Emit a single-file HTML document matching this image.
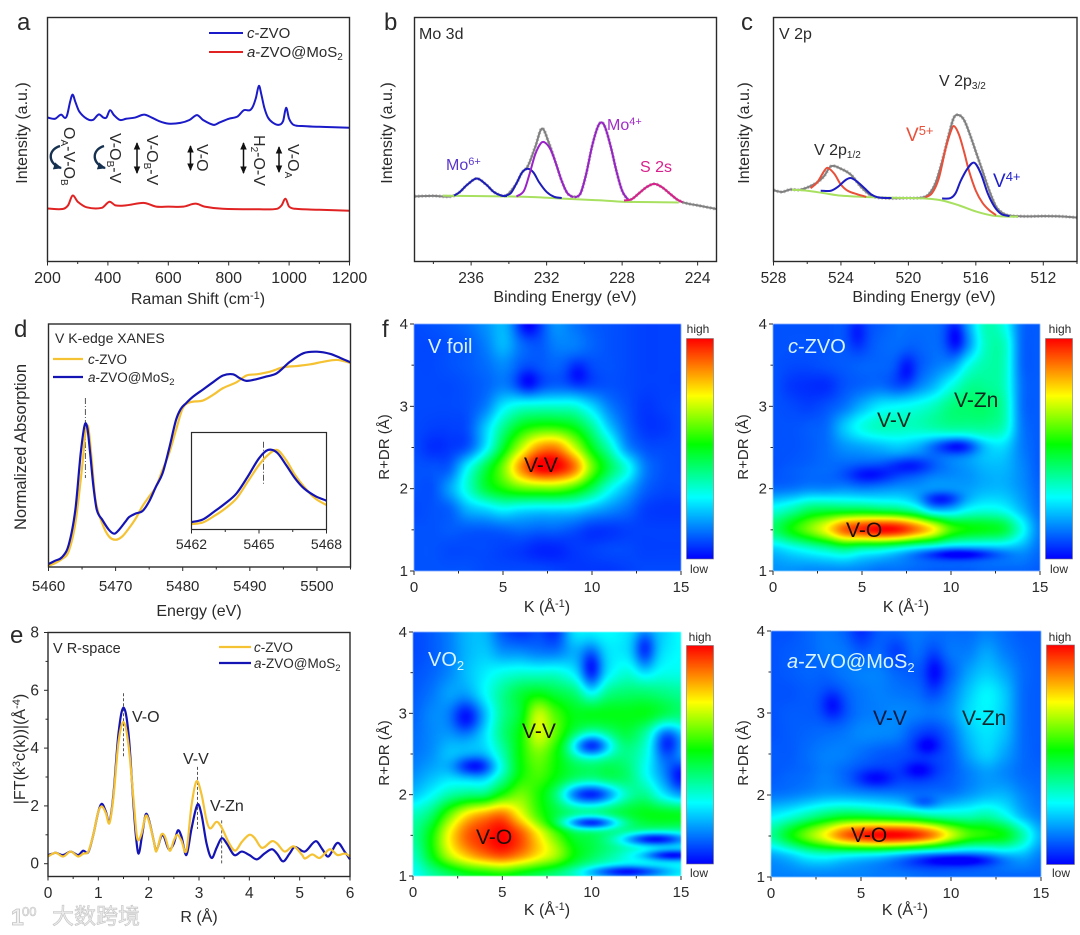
<!DOCTYPE html>
<html lang="en">
<head>
<meta charset="utf-8">
<title>ZVO characterization figure</title>
<style>
html,body{margin:0;padding:0;background:#fff;}
#figure{position:relative;width:1080px;height:935px;overflow:hidden;background:#fff;font-family:"Liberation Sans","Noto Sans CJK SC",sans-serif;}
canvas{position:absolute;filter:blur(0.4px);}
svg{position:absolute;left:0;top:0;filter:blur(0.35px);}
text{font-family:"Liberation Sans","Noto Sans CJK SC",sans-serif;fill:#2a2a2a;}
</style>
</head>
<body>
<div id="figure">
<canvas id="map-foil" style="left:414px;top:324px" width="267" height="247"></canvas>
<canvas id="map-czvo" style="left:773px;top:324px" width="267" height="247"></canvas>
<canvas id="map-vo2" style="left:413px;top:632px" width="268" height="244"></canvas>
<canvas id="map-azvo" style="left:771px;top:631px" width="270" height="246"></canvas>
<svg id="chart" width="1080" height="935" viewBox="0 0 1080 935" xmlns="http://www.w3.org/2000/svg">
<defs>
<marker id="arrow" viewBox="0 0 8 8" refX="7" refY="4" markerWidth="5" markerHeight="5" orient="auto-start-reverse"><path d="M0 0.5L8 4L0 7.5Z" fill="#111"/></marker>
<marker id="arrow-navy" viewBox="0 0 8 8" refX="7" refY="4" markerWidth="3.5" markerHeight="3.5" orient="auto"><path d="M0 0.5L8 4L0 7.5Z" fill="#16304f"/></marker>
<linearGradient id="colorbar-gradient" x1="0" y1="1" x2="0" y2="0">
<stop offset="0" stop-color="#0000ff"/><stop offset="0.28" stop-color="#00ffff"/><stop offset="0.52" stop-color="#00ff00"/><stop offset="0.74" stop-color="#ffff00"/><stop offset="1" stop-color="#ff0000"/>
</linearGradient>
</defs>
<g id="marks"></g>
<g id="axes"></g>

<!-- panel letters -->
<g font-size="24">
<text x="17" y="30">a</text>
<text x="384" y="30">b</text>
<text x="741" y="30">c</text>
<text x="14" y="337">d</text>
<text x="10" y="643">e</text>
<text x="382" y="337">f</text>
</g>

<!-- axis titles -->
<g font-size="16" text-anchor="middle">
<text x="198" y="304">Raman Shift (cm<tspan dy="-5" font-size="11">-1</tspan><tspan dy="5">)</tspan></text>
<text x="565" y="302">Binding Energy (eV)</text>
<text x="924" y="302">Binding Energy (eV)</text>
<text x="199" y="616">Energy (eV)</text>
<text x="199" y="922">R (Å)</text>
<text x="547" y="612">K (Å<tspan dy="-5" font-size="11">-1</tspan><tspan dy="5">)</tspan></text>
<text x="906" y="612">K (Å<tspan dy="-5" font-size="11">-1</tspan><tspan dy="5">)</tspan></text>
<text x="547" y="915">K (Å<tspan dy="-5" font-size="11">-1</tspan><tspan dy="5">)</tspan></text>
<text x="905" y="915">K (Å<tspan dy="-5" font-size="11">-1</tspan><tspan dy="5">)</tspan></text>
<text transform="translate(27,133) rotate(-90)">Intensity (a.u.)</text>
<text transform="translate(392,133) rotate(-90)">Intensity (a.u.)</text>
<text transform="translate(749,133) rotate(-90)">Intensity (a.u.)</text>
<text transform="translate(26,447) rotate(-90)" font-size="16.5">Normalized Absorption</text>
<text transform="translate(25,749) rotate(-90)">|FT(k<tspan dy="-5" font-size="11">3</tspan><tspan dy="5">c(k))|(Å</tspan><tspan dy="-5" font-size="11">-4</tspan><tspan dy="5">)</tspan></text>
<text transform="translate(389,447) rotate(-90)" font-size="15">R+DR (Å)</text>
<text transform="translate(748,447) rotate(-90)" font-size="15">R+DR (Å)</text>
<text transform="translate(389,753) rotate(-90)" font-size="15">R+DR (Å)</text>
<text transform="translate(748,753) rotate(-90)" font-size="15">R+DR (Å)</text>
</g>

<!-- panel a annotations -->
<g font-size="15">
<line x1="209" x2="243" y1="33" y2="33" stroke="#1a1ac8" stroke-width="2"/>
<text x="247" y="38"><tspan font-style="italic">c</tspan>-ZVO</text>
<line x1="209" x2="243" y1="52" y2="52" stroke="#e02222" stroke-width="2"/>
<text x="247" y="57"><tspan font-style="italic">a</tspan>-ZVO@MoS<tspan dy="3" font-size="10">2</tspan></text>
</g>
<g font-size="16">
<text transform="translate(64,127) rotate(90)">O<tspan dy="3" font-size="10">A</tspan><tspan dy="-3">-V-O</tspan><tspan dy="3" font-size="10">B</tspan></text>
<text transform="translate(110,133) rotate(90)">V-O<tspan dy="3" font-size="10">B</tspan><tspan dy="-3">-V</tspan></text>
<text transform="translate(147,135) rotate(90)">V-O<tspan dy="3" font-size="10">B</tspan><tspan dy="-3">-V</tspan></text>
<text transform="translate(197,144) rotate(90)">V-O</text>
<text transform="translate(254,135) rotate(90)">H<tspan dy="3" font-size="10">2</tspan><tspan dy="-3">-O-V</tspan></text>
<text transform="translate(288,144) rotate(90)">V-O<tspan dy="3" font-size="10">A</tspan></text>
<line x1="137" x2="137" y1="143" y2="173" stroke="#111" stroke-width="1.5" marker-start="url(#arrow)" marker-end="url(#arrow)"/>
<line x1="190.5" x2="190.5" y1="146" y2="170" stroke="#111" stroke-width="1.5" marker-start="url(#arrow)" marker-end="url(#arrow)"/>
<line x1="243.5" x2="243.5" y1="143" y2="173" stroke="#111" stroke-width="1.5" marker-start="url(#arrow)" marker-end="url(#arrow)"/>
<line x1="279" x2="279" y1="147" y2="172" stroke="#111" stroke-width="1.5" marker-start="url(#arrow)" marker-end="url(#arrow)"/>
<path d="M60 146C47 150 48 164 61 168" fill="none" stroke="#16304f" stroke-width="2.4" marker-end="url(#arrow-navy)"/>
<path d="M104 146C91 150 92 164 105 168" fill="none" stroke="#16304f" stroke-width="2.4" marker-end="url(#arrow-navy)"/>
</g>

<!-- panel b and c annotations -->
<g font-size="15">
<text x="419" y="39" font-size="16">Mo 3d</text>
<text x="446" y="170" font-size="16" style="fill:#5a36cc">Mo<tspan dy="-5" font-size="11">6+</tspan></text>
<text x="607" y="130" font-size="16" style="fill:#a22cc8">Mo<tspan dy="-5" font-size="11">4+</tspan></text>
<text x="640" y="172" font-size="16" style="fill:#d8208c">S 2s</text>
<text x="779" y="39" font-size="16">V 2p</text>
<text x="939" y="86" font-size="16">V 2p<tspan dy="3" font-size="10">3/2</tspan></text>
<text x="814" y="155" font-size="16">V 2p<tspan dy="3" font-size="10">1/2</tspan></text>
<text x="906" y="141" font-size="19" style="fill:#e8503a">V<tspan dy="-6" font-size="13">5+</tspan></text>
<text x="993" y="187" font-size="19" style="fill:#2020c8">V<tspan dy="-6" font-size="13">4+</tspan></text>
</g>

<!-- panel d annotations -->
<g font-size="13.5">
<text x="55" y="343" font-size="14">V K-edge XANES</text>
<line x1="53" x2="83" y1="359" y2="359" stroke="#f5c233" stroke-width="2.2"/>
<text x="88" y="364"><tspan font-style="italic">c</tspan>-ZVO</text>
<line x1="53" x2="83" y1="377" y2="377" stroke="#1414b4" stroke-width="2.2"/>
<text x="88" y="382"><tspan font-style="italic">a</tspan>-ZVO@MoS<tspan dy="3" font-size="9.5">2</tspan></text>
</g>

<!-- panel e annotations -->
<g font-size="13.5">
<text x="53" y="653" font-size="14.5">V R-space</text>
<line x1="219" x2="251" y1="647" y2="647" stroke="#f5c233" stroke-width="2.2"/>
<text x="254" y="652"><tspan font-style="italic">c</tspan>-ZVO</text>
<line x1="219" x2="251" y1="663" y2="663" stroke="#1414b4" stroke-width="2.2"/>
<text x="254" y="668"><tspan font-style="italic">a</tspan>-ZVO@MoS<tspan dy="3" font-size="9.5">2</tspan></text>
<text x="132" y="722" font-size="16">V-O</text>
<text x="183" y="764" font-size="16">V-V</text>
<text x="210" y="811" font-size="16">V-Zn</text>
</g>

<!-- heatmap labels -->
<g font-size="21" style="fill:#111">
<text x="428" y="353" font-size="20" style="fill:#d8f4ff">V foil</text>
<text x="524" y="472" style="fill:#1a1008">V-V</text>
<text x="788" y="353" font-size="20" style="fill:#d8f4ff"><tspan font-style="italic">c</tspan>-ZVO</text>
<text x="877" y="427" style="fill:#0a2a20">V-V</text>
<text x="954" y="407" style="fill:#0a2a20">V-Zn</text>
<text x="846" y="537" style="fill:#1a1008">V-O</text>
<text x="428" y="666" font-size="20" style="fill:#d8f4ff">VO<tspan dy="4" font-size="13">2</tspan></text>
<text x="522" y="738" style="fill:#1a1008">V-V</text>
<text x="476" y="844" style="fill:#1a1008">V-O</text>
<text x="787" y="668" font-size="20" style="fill:#d8f4ff"><tspan font-style="italic">a</tspan>-ZVO@MoS<tspan dy="4" font-size="13">2</tspan></text>
<text x="873" y="725" style="fill:#0a1a40">V-V</text>
<text x="962" y="725" style="fill:#0a2a30">V-Zn</text>
<text x="851" y="842" style="fill:#1a1008">V-O</text>
</g>

<!-- colorbars -->
<g>
<rect x="686.5" y="338.5" width="27" height="220.5" fill="url(#colorbar-gradient)" stroke="#777" stroke-width="0.6"/>
<rect x="1045.5" y="338.5" width="27" height="220.5" fill="url(#colorbar-gradient)" stroke="#777" stroke-width="0.6"/>
<rect x="686.5" y="645.5" width="27" height="218.5" fill="url(#colorbar-gradient)" stroke="#777" stroke-width="0.6"/>
<rect x="1046.5" y="645" width="28" height="219.5" fill="url(#colorbar-gradient)" stroke="#777" stroke-width="0.6"/>
</g>
<g font-size="12" text-anchor="middle">
<text x="698" y="333">high</text>
<text x="699" y="573">low</text>
<text x="1060" y="333">high</text>
<text x="1059" y="573">low</text>
<text x="700" y="641">high</text>
<text x="699" y="877">low</text>
<text x="1060" y="641">high</text>
<text x="1061" y="877">low</text>
</g>

<!-- watermark -->
<g>
<text x="11" y="925" font-size="23" font-weight="bold" style="fill:#f0f0f0;stroke:#c4c4c4;stroke-width:0.8">1</text>
<text x="22" y="916" font-size="13" style="fill:#f4f4f4;stroke:#c4c4c4;stroke-width:0.6">00</text>
<text x="52" y="924" font-size="22" style="fill:#ececec;stroke:#c4c4c4;stroke-width:0.6;font-family:'Liberation Sans','Noto Sans CJK SC',sans-serif">大数跨境</text>
</g>
</svg>
</div>

<script>
/* ---------- panel a: Raman ---------- */
const ramanShift = [200,225,245,258,265,275,283,292,305,330,350,370,385,395,407,420,440,460,490,520,545,570,600,640,670,695,715,750,770,800,830,850,870,880,890,900,908,918,930,945,965,980,990,1000,1015,1050,1100,1150,1200];
const ramanCZvo  = [59,58.5,60.2,58.8,60,65.5,68.4,65.5,61.5,58.5,58,60.3,59,59,62,60,58,58.5,59,60.2,59,57.5,56.5,56.8,58,60,58,56,57,58.5,59.5,62,62,63.5,67,72,68.5,63,59,57,56,57.5,63,58.5,56,55.5,55.2,55,54.8];
const ramanShiftA = [200,250,268,283,300,330,380,405,425,460,520,560,600,650,690,720,780,900,960,975,988,1000,1020,1100,1200];
const ramanAZvo   = [21.7,21.5,23,27,24.5,22.2,22,24.5,23,23,24,22.5,22.5,22.5,23.7,22.5,21.6,21.4,21.6,23,25.7,22.5,21.6,21.2,20.8];
const ramanTicks = [200,400,600,800,1000,1200];
const ramanMinorTicks = [300,500,700,900,1100];

/* ---------- panel b: Mo 3d ---------- */
const moEnergy = [239,238,237.3,236.9,236.6,236.2,235.7,235.2,234.8,234.4,234.1,233.6,233.3,233,232.6,232.25,231.9,231.5,231.2,230.9,230.5,230.2,229.9,229.6,229.3,229.1,228.9,228.6,228.3,228,227.7,227.5,227.1,226.7,226.3,225.9,225.5,225.1,224.8,224.5,224,223];
const moTotal  = [26.7,26.9,26.6,27,28.5,31.5,34,31.5,28.5,27,27.2,32,36.5,39,47,54.5,49,40,33,28,26.5,28,36,47,55,57,55,47,37,29,25.5,25.5,28,30.5,31.8,30.5,28,25.5,24.3,23.7,23,21.5];
const moBackgroundE = [237.5,233,231,229,228,225];
const moBackground  = [27,26.5,25.7,25,24.5,24.2];
const mo6aE = [236.9,236.6,236.2,235.7,235.2,234.8,234.4,234.1];
const mo6a  = [27,28.5,31.5,34,31.5,28.5,27,26.8];
const mo6bE = [234.3,233.9,233.6,233.3,233,232.7,232.4,232,231.6,231.2];
const mo6b  = [26.8,28,32,36.5,38,36.5,32.5,28.5,26.5,26];
const mo4aE = [233.6,233.2,232.9,232.6,232.3,232.1,231.8,231.5,231.2,230.9,230.6];
const mo4a  = [26.6,29,36,44,48.5,48.8,46,40,33,28,26.3];
const mo4bE = [230.5,230.2,229.9,229.6,229.3,229.1,228.9,228.6,228.3,228,227.7];
const mo4b  = [26.2,28,36,47,55,57,55,47,37,29,25.5];
const s2sE = [227.9,227.5,227.1,226.7,226.3,225.9,225.5,225.1,224.8];
const s2s  = [25,25.5,28,30.5,31.8,30.5,28,25.5,24.3];
const moTicks = [236,232,228,224];
const moMinorTicks = [238,234,230,226];

/* ---------- panel c: V 2p ---------- */
const vEnergy = [528,527.5,527,526.4,525.5,525,524.6,524,523.4,522.8,522.2,521.5,520,519.2,518.8,518.4,518,517.6,517.3,517,516.7,516.4,516,515.6,515.2,514.8,514.4,514,513,512,511,510];
const vTotal  = [29.2,28.5,29.5,29.4,32,35,39,38,35.5,30.5,27,26,26,26.2,27.5,32,41,52,59,60,58,53,45,37,29,22.5,19.8,18.8,18.5,18.6,18.5,18];
const vBackgroundE = [526.9,526,525,524,522,520,519,518,517,516,515,514,513.5];
const vBackground  = [29.4,29,28,27,26.3,26,25.8,25,23,20.5,18.8,18.4,18.4];
const v5aE = [525.8,525.4,525,524.8,524.4,524,523.6,523,522.5];
const v5a  = [30,32.5,37,38.4,36,31.5,29,27.5,26.5];
const v4aE = [525.2,524.6,524.2,523.7,523.4,523,522.6,522.2,521.8,521];
const v4a  = [29,29,30.5,33.5,34.2,32.5,30,27.5,26.3,26];
const v5bE = [519,518.6,518.2,517.8,517.5,517.3,517,516.7,516.4,516,515.6,515.2,514.8];
const v5b  = [26.3,28,34,46,53,55.5,52,45,37,29,24,21,19];
const v4bE = [518,517.5,517.2,516.9,516.5,516.1,515.7,515.3,514.9,514.5,514];
const v4b  = [25.8,26,28,33,38,40.5,36,28,22.5,19.5,18.6];
const vTicks = [528,524,520,516,512];
const vMinorTicks = [526,522,518,514,510];

/* ---------- panel d: XANES ---------- */
const xanesBlueE = [5460,5461,5462,5463,5464,5464.8,5465.4,5465.8,5466.2,5466.7,5467.2,5468,5469,5469.8,5470.5,5471.5,5472,5473,5474,5475,5476,5477,5478,5479,5479.7,5480.5,5481.5,5483,5484.5,5486,5487.5,5488.5,5489.5,5491,5492.5,5494,5496,5498,5500,5502,5503.5,5505];
const xanesBlue  = [1.2,2.6,4,9,23.5,46.8,58.5,57,47,33,23.5,19.5,15.3,13.7,15.3,18.8,20.5,22,23,27,33,38.6,49,60.5,65,67.4,70,73,76,78.8,79.3,77.7,76.6,77.3,78.4,79.7,84.5,88,88.6,87.7,86,84.2];
const xanesGoldE = [5460,5461,5462,5463,5464,5465,5465.5,5465.9,5466.4,5467,5468,5469,5470,5471,5472,5473,5474,5475,5476,5477,5478,5479,5480,5481,5483,5484.5,5486,5488,5489.5,5491,5493,5495,5497,5499,5501,5503,5505];
const xanesGold  = [0.5,1.6,3.3,6.4,18,41,55,57.8,45.5,27.7,18,12.6,11.2,12.6,16,20,25,29,33,40,47,56.4,65.3,67.7,68.5,70.8,73.6,76,78.8,79.3,80.4,82.2,82.7,83.4,84.5,85.2,84];
const xanesTicks = [5460,5470,5480,5490,5500];
const xanesMinorTicks = [5465,5475,5485,5495,5505];
const xanesPeakGuide = [5465.5];

/* inset */
const insetE = [5462,5462.5,5463,5463.5,5464,5464.5,5465,5465.4,5465.8,5466.2,5466.6,5467,5467.5,5468];
const insetBlue = [7.6,10.3,18.3,26.9,37.2,54.5,73.4,82,79.3,66.6,52.8,42.4,34.5,29.7];
const insetGold = [5.5,7.2,13.8,21.7,32,49.3,66.6,76.9,82,71.7,56.2,44.1,32,25.2];
const insetTicks = [5462,5465,5468];
const insetMinorTicks = [5463.5,5466.5];
const insetPeakGuide = [5465.2];

/* ---------- panel e: R-space ---------- */
const rBlue = [0,0.1,0.15,0.3,0.45,0.6,0.7,0.8,0.9,1,1.07,1.15,1.22,1.3,1.4,1.5,1.6,1.7,1.75,1.8,1.87,1.94,2,2.1,2.15,2.25,2.3,2.4,2.5,2.58,2.65,2.75,2.85,2.97,3.05,3.15,3.25,3.35,3.45,3.55,3.7,3.85,4,4.15,4.3,4.45,4.55,4.67,4.8,4.9,5.1,5.32,5.45,5.57,5.75,5.9,6];
const ftBlue = [0.3,0.35,0.38,0.3,0.42,0.3,0.45,0.4,1,1.8,2.07,1.8,1.45,2.4,4.5,5.4,4.5,2,0.9,0.35,1,1.7,1.55,0.8,0.45,0.95,0.95,0.5,0.7,1.15,0.95,0.3,1.2,2.05,1.7,0.7,0.2,0.55,0.88,0.7,0.3,0.42,0.3,0.15,0.35,0.5,0.35,0.08,0.35,0.58,0.42,0.78,0.5,0.25,0.72,0.4,0.15];
const rGold = [0,0.15,0.3,0.45,0.6,0.7,0.8,0.9,1,1.07,1.15,1.22,1.3,1.4,1.5,1.6,1.7,1.77,1.85,1.94,2,2.1,2.15,2.25,2.32,2.42,2.5,2.57,2.65,2.75,2.85,2.95,3.05,3.15,3.22,3.35,3.45,3.6,3.72,3.85,4,4.1,4.25,4.45,4.55,4.7,4.88,5.05,5.1,5.25,5.4,5.6,5.75,5.9,6];
const ftGold = [0.25,0.38,0.25,0.42,0.25,0.35,0.42,1,1.8,1.98,1.75,1.4,2.3,4.2,4.9,4.1,2.2,0.9,1,1.65,1.5,0.8,0.42,1,0.95,0.45,0.8,1,0.8,0.45,2,2.85,2.4,1.5,1.22,1.45,1.25,0.7,0.45,0.75,1,0.9,0.55,0.78,0.7,0.42,0.6,0.3,0.18,0.32,0.2,0.5,0.3,0.35,0.25];
const rTicks = [0,1,2,3,4,5,6];
const rMinorTicks = [0.5,1.5,2.5,3.5,4.5,5.5];
const ftTicks = [0,2,4,6,8];
const ftMinorTicks = [1,3,5,7];
const guideVO = [1.5,5.9,3.7];
const guideVV = [2.97,3.35,1.2];
const guideVZn = [3.45,1.5,0];

/* ---------- panel f: wavelet maps (level 0-100; columns K=0..15, rows R+DR=4..1 in 0.25 steps) ---------- */
const kTicks = [0,5,10,15];
const kMinorTicks = [2.5,7.5,12.5];
const drTicks = [1,2,3,4];
const drMinorTicks = [1.5,2.5,3.5];
const colorStops = [[0,0,0,255],[28,0,255,255],[52,0,255,0],[74,255,255,0],[100,255,0,0]];
const vFoilLevels = [
[8,9,10,12,16,20,12,10,16,13,10,9,8,7,7,7],
[8,8,9,10,14,20,13,10,14,14,11,9,8,7,7,7],
[8,8,9,10,12,15,11,10,11,10,9,9,8,7,7,7],
[8,8,8,9,11,14,11,10,11,11,9,9,8,7,7,7],
[8,8,8,9,14,26,32,33,33,32,24,14,9,6,7,8],
[8,7,7,9,22,38,50,55,55,50,38,22,11,6,6,8],
[8,5,6,10,26,48,68,84,86,70,50,34,16,9,8,8],
[9,9,11,28,45,62,85,100,100,88,62,44,30,14,9,8],
[9,9,18,32,46,54,60,62,62,56,44,30,20,11,8,8],
[8,9,11,20,24,28,26,25,25,24,20,16,12,7,6,6],
[9,9,10,10,10,11,12,11,11,9,6,6,7,7,7,7],
[9,9,8,8,8,7,6,4,4,6,7,8,8,7,7,7],
[9,9,9,9,8,8,8,8,7,6,6,6,7,8,8,8]
];
const vFoilSpots = [[6.4,3.3,0.45,0.12,8],[9.2,3.4,0.45,0.12,7],[6.4,4,0.5,0.12,10]];
const cZvoLevels = [
[9,9,9,9,10,9,10,12,12,12,12,20,35,30,12,10],
[9,9,9,9,10,9,11,12,11,12,12,18,34,34,12,10],
[9,8,8,9,10,11,11,11,10,13,18,30,36,34,12,10],
[9,6,5,5,9,11,12,10,14,20,30,38,38,34,13,10],
[9,8,7,9,13,20,26,28,30,34,40,42,42,36,13,10],
[9,9,10,12,22,30,34,34,34,36,38,38,38,34,14,10],
[9,9,10,12,16,18,20,22,20,18,22,24,26,24,14,10],
[9,10,11,12,12,12,13,13,13,14,15,17,20,20,15,10],
[12,13,15,15,16,15,16,17,17,18,18,18,20,20,16,11],
[30,35,42,44,44,44,42,40,34,22,22,28,30,28,20,12],
[42,52,62,74,90,96,100,98,88,75,58,52,50,46,30,14],
[22,26,30,34,38,34,32,28,24,22,20,20,20,20,18,12],
[16,16,15,15,15,14,12,12,11,10,10,10,11,11,11,10]
];
const cZvoSpots = [[10.4,2.52,0.9,0.08,22],[5.5,2.17,1,0.08,10],[7.7,2.28,1,0.08,10],[9.5,1.87,0.8,0.07,14],[10.5,1.2,1.5,0.05,18],[7.5,3.45,0.4,0.13,8],[10.3,3.85,0.4,0.18,12],[4.7,3.9,0.4,0.15,6]];
const vo2Levels = [
[8,10,14,20,20,10,6,8,6,24,28,28,26,26,24,28],
[8,10,14,20,22,17,16,14,14,20,24,26,26,26,26,28],
[9,11,15,21,26,30,32,32,32,28,26,28,32,30,30,30],
[10,13,18,20,28,38,46,50,46,42,36,40,42,42,40,38],
[11,15,17,18,24,38,48,68,58,50,50,50,50,50,46,42],
[12,15,18,20,26,40,52,70,60,48,42,44,46,38,26,30],
[13,16,22,23,24,36,52,62,54,44,42,42,40,32,20,26],
[16,20,24,24,24,36,52,58,52,46,44,46,42,30,18,12],
[22,28,36,40,42,54,62,56,50,42,42,44,44,40,28,24],
[34,42,60,76,84,88,74,58,48,44,44,46,48,50,50,50],
[38,52,74,90,96,100,92,76,60,48,46,44,42,40,38,36],
[34,50,68,80,88,92,86,76,66,52,44,38,34,34,32,30],
[28,36,42,48,50,52,48,44,40,36,30,26,24,26,28,30]
];
const vo2Spots = [[3,2.95,0.6,0.15,16],[3.4,2.35,0.8,0.09,20],[10,2.6,0.8,0.1,36],[10,2,1.2,0.1,38],[10,1.65,1.1,0.06,40],[13.5,1.45,1.3,0.06,36],[14.5,1.25,1.2,0.05,30],[12,1.05,1.6,0.05,24],[14.4,2.65,0.6,0.15,18],[15,2.2,0.5,0.2,10],[10,3.55,0.45,0.2,22],[13,3.8,0.45,0.18,20]];
const aZvoLevels = [
[9,9,11,13,11,5,10,11,13,12,12,12,14,12,10,10],
[9,10,11,13,13,10,11,7,12,10,13,14,18,14,11,10],
[9,10,11,11,13,14,14,11,10,10,11,18,22,18,12,10],
[9,9,10,10,11,13,14,13,12,10,14,22,27,22,12,10],
[9,10,10,10,10,13,14,15,14,13,16,24,27,22,12,10],
[9,10,11,12,13,15,15,14,9,7,12,21,25,21,12,10],
[10,10,12,14,14,12,10,9,8,8,10,18,23,18,12,10],
[10,11,12,14,12,10,9,9,8,8,10,14,17,15,12,11],
[13,14,16,18,18,17,16,15,14,14,14,17,20,20,15,12],
[26,30,36,42,46,46,44,42,40,36,34,34,36,30,20,14],
[38,50,62,74,88,96,100,100,96,86,70,58,54,50,36,20],
[18,22,28,30,28,26,24,20,16,14,14,14,16,20,20,14],
[14,14,14,14,14,14,13,13,12,11,11,11,11,11,11,11]
];
const aZvoSpots = [[8.7,2.6,0.5,0.08,8],[8.2,2.3,0.6,0.08,8],[5.8,2.2,0.8,0.08,9],[8.5,1.9,0.6,0.06,10],[10.5,1.2,1.5,0.05,14],[3.4,3.1,0.45,0.13,8],[9.1,3.5,0.4,0.15,9]];

/* ---------- helpers ---------- */
const SVG_NS = 'http://www.w3.org/2000/svg';
const marksLayer = document.getElementById('marks');
const axesLayer = document.getElementById('axes');

function scale(d0, d1, r0, r1) {
  return function (v) { return r0 + (v - d0) * (r1 - r0) / (d1 - d0); };
}

function smoothPath(xs, ys, sx, sy) {
  const px = xs.map(sx), py = ys.map(sy), n = px.length, m = [];
  for (let i = 0; i < n; i++) {
    const a = Math.max(0, i - 1), b = Math.min(n - 1, i + 1);
    m.push((py[b] - py[a]) / (px[b] - px[a]));
  }
  let d = 'M' + px[0].toFixed(2) + ' ' + py[0].toFixed(2);
  for (let i = 0; i < n - 1; i++) {
    const h = (px[i + 1] - px[i]) / 3;
    d += 'C' + (px[i] + h).toFixed(2) + ' ' + (py[i] + m[i] * h).toFixed(2) + ' ' +
         (px[i + 1] - h).toFixed(2) + ' ' + (py[i + 1] - m[i + 1] * h).toFixed(2) + ' ' +
         px[i + 1].toFixed(2) + ' ' + py[i + 1].toFixed(2);
  }
  return d;
}

function drawCurve(name, xs, ys, sx, sy, color, width, dash) {
  const el = document.createElementNS(SVG_NS, 'path');
  
  
  el.setAttribute('d', smoothPath(xs, ys, sx, sy));
  el.setAttribute('fill', 'none');
  el.setAttribute('stroke', color);
  el.setAttribute('stroke-width', width);
  el.setAttribute('stroke-linejoin', 'round');
  if (dash) el.setAttribute('stroke-dasharray', dash);
  marksLayer.appendChild(el);
  return el;
}

function drawGuide(name, x, y1, y2, dash) {
  const el = document.createElementNS(SVG_NS, 'line');
  
  
  el.setAttribute('x1', x);
  el.setAttribute('x2', x);
  el.setAttribute('y1', y1);
  el.setAttribute('y2', y2);
  el.setAttribute('stroke', '#555');
  el.setAttribute('stroke-width', 1);
  el.setAttribute('stroke-dasharray', dash);
  marksLayer.appendChild(el);
}

function drawFrame(name, box, strokeWidth) {
  const el = document.createElementNS(SVG_NS, 'rect');
  
  
  el.setAttribute('x', box.l);
  el.setAttribute('y', box.t);
  el.setAttribute('width', box.r - box.l);
  el.setAttribute('height', box.b - box.t);
  el.setAttribute('fill', 'none');
  el.setAttribute('stroke', '#2a2a2a');
  el.setAttribute('stroke-width', strokeWidth);
  axesLayer.appendChild(el);
}

function drawTickMark(name, x1, y1, x2, y2) {
  const el = document.createElementNS(SVG_NS, 'line');
  
  
  el.setAttribute('x1', x1);
  el.setAttribute('y1', y1);
  el.setAttribute('x2', x2);
  el.setAttribute('y2', y2);
  el.setAttribute('stroke', '#2a2a2a');
  el.setAttribute('stroke-width', 1);
  axesLayer.appendChild(el);
}

function drawTickLabel(name, x, y, label, anchor, size) {
  const el = document.createElementNS(SVG_NS, 'text');
  
  
  el.setAttribute('x', x);
  el.setAttribute('y', y);
  el.setAttribute('text-anchor', anchor);
  el.setAttribute('font-size', size);
  el.textContent = label;
  axesLayer.appendChild(el);
}

function xAxis(prefix, box, sx, major, minor, labelY, size) {
  major.forEach(function (v) {
    drawTickMark(prefix + '-x-tick', sx(v), box.b, sx(v), box.b + 4);
    drawTickLabel(prefix + '-x-tick-label', sx(v), labelY, String(v), 'middle', size);
  });
  minor.forEach(function (v) {
    drawTickMark(prefix + '-x-minor-tick', sx(v), box.b, sx(v), box.b + 2.5);
  });
}

function yAxis(prefix, box, sy, major, minor, labelX, size) {
  major.forEach(function (v) {
    drawTickMark(prefix + '-y-tick', box.l - 4, sy(v), box.l, sy(v));
    drawTickLabel(prefix + '-y-tick-label', labelX, sy(v) + 5, String(v), 'end', size);
  });
  minor.forEach(function (v) {
    drawTickMark(prefix + '-y-minor-tick', box.l - 2.5, sy(v), box.l, sy(v));
  });
}

/* ---------- panel a ---------- */
(function () {
  const box = { l: 47.5, r: 349.5, t: 17.5, b: 261.5 };
  const sx = scale(200, 1200, box.l, box.r), sy = scale(0, 100, box.b, box.t);
  drawCurve('raman-c-zvo-line', ramanShift, ramanCZvo, sx, sy, '#1a1ac8', 2);
  drawCurve('raman-a-zvo-line', ramanShiftA, ramanAZvo, sx, sy, '#e02222', 2);
  drawFrame('a-plot-frame', box, 1.4);
  xAxis('a', box, sx, ramanTicks, ramanMinorTicks, 283, 16);
})();

/* ---------- panel b ---------- */
(function () {
  const box = { l: 414.5, r: 716.5, t: 17.5, b: 261.5 };
  const sx = scale(239, 223, box.l, box.r), sy = scale(0, 100, box.b, box.t);
  drawCurve('mo3d-raw-points', moEnergy, moTotal, sx, sy, '#c0c0c0', 3.5, '1.5 2');
  drawCurve('mo3d-envelope', moEnergy, moTotal, sx, sy, '#808080', 2);
  drawCurve('mo3d-background', moBackgroundE, moBackground, sx, sy, '#a8e060', 2);
  drawCurve('mo6-peak-1', mo6aE, mo6a, sx, sy, '#1c1cb8', 2);
  drawCurve('mo6-peak-2', mo6bE, mo6b, sx, sy, '#1c1cb8', 2);
  drawCurve('mo4-peak-1', mo4aE, mo4a, sx, sy, '#9a22c8', 2);
  drawCurve('mo4-peak-2', mo4bE, mo4b, sx, sy, '#9a22c8', 2);
  drawCurve('s2s-peak', s2sE, s2s, sx, sy, '#d8208c', 2);
  drawFrame('b-plot-frame', box, 1.4);
  xAxis('b', box, sx, moTicks, moMinorTicks, 283, 15.5);
})();

/* ---------- panel c ---------- */
(function () {
  const box = { l: 773.5, r: 1077, t: 17.5, b: 261.5 };
  const sx = scale(528, 510, box.l, box.r), sy = scale(0, 100, box.b, box.t);
  drawCurve('v2p-raw-points', vEnergy, vTotal, sx, sy, '#c0c0c0', 3.5, '1.5 2');
  drawCurve('v2p-envelope', vEnergy, vTotal, sx, sy, '#808080', 2);
  drawCurve('v2p-background', vBackgroundE, vBackground, sx, sy, '#a8e060', 2);
  drawCurve('v5-peak-1', v5aE, v5a, sx, sy, '#e8503a', 2);
  drawCurve('v4-peak-1', v4aE, v4a, sx, sy, '#1c1cc0', 2);
  drawCurve('v5-peak-2', v5bE, v5b, sx, sy, '#e8503a', 2);
  drawCurve('v4-peak-2', v4bE, v4b, sx, sy, '#1c1cc0', 2);
  drawFrame('c-plot-frame', box, 1.4);
  xAxis('c', box, sx, vTicks, vMinorTicks, 283, 15.5);
})();

/* ---------- panel d ---------- */
(function () {
  const box = { l: 48.5, r: 350.5, t: 324, b: 567 };
  const sx = scale(5460, 5505, box.l, box.r), sy = scale(0, 100, box.b, box.t);
  drawGuide('d-peak-guide', sx(xanesPeakGuide[0]), 398, 478, '6 2 1 2');
  drawCurve('xanes-c-zvo-line', xanesGoldE, xanesGold, sx, sy, '#f5c233', 2.2);
  drawCurve('xanes-a-zvo-line', xanesBlueE, xanesBlue, sx, sy, '#1414b4', 2.2);
  drawFrame('d-plot-frame', box, 1.4);
  xAxis('d', box, sx, xanesTicks, xanesMinorTicks, 591, 15);

  const inset = { l: 191.5, r: 326.5, t: 432.5, b: 529.5 };
  const ix = scale(5462, 5468, inset.l, inset.r), iy = scale(0, 100, inset.b, inset.t);
  drawGuide('inset-peak-guide', ix(insetPeakGuide[0]), 441.7, 485, '6 2 1 2');
  drawCurve('inset-c-zvo-line', insetE, insetGold, ix, iy, '#f5c233', 2.2);
  drawCurve('inset-a-zvo-line', insetE, insetBlue, ix, iy, '#1414b4', 2.2);
  drawFrame('inset-plot-frame', inset, 1.2);
  xAxis('inset', inset, ix, insetTicks, insetMinorTicks, 549, 14);
})();

/* ---------- panel e ---------- */
(function () {
  const box = { l: 48, r: 350, t: 632.5, b: 876.5 };
  const sx = scale(0, 6, box.l, box.r), sy = scale(0, 8, 863.7, 632.5);
  drawGuide('v-o-guide', sx(guideVO[0]), sy(guideVO[1]), sy(guideVO[2]), '3 2');
  drawGuide('v-v-guide', sx(guideVV[0]), sy(guideVV[1]), sy(guideVV[2]), '3 2');
  drawGuide('v-zn-guide', sx(guideVZn[0]), sy(guideVZn[1]), sy(guideVZn[2]), '3 2');
  drawCurve('ft-a-zvo-line', rBlue, ftBlue, sx, sy, '#1414b4', 2.2);
  drawCurve('ft-c-zvo-line', rGold, ftGold, sx, sy, '#f5c233', 2.2);
  drawFrame('e-plot-frame', box, 1.4);
  xAxis('e', box, sx, rTicks, rMinorTicks, 898, 15.5);
  yAxis('e', box, sy, ftTicks, ftMinorTicks, 39, 15.5);
})();

/* ---------- panel f ---------- */
function cubic(a, b, c, d, t) {
  return b + 0.5 * t * (c - a + t * (2 * a - 5 * b + 4 * c - d + t * (3 * (b - c) + d - a)));
}
function sampleLevels(grid, col, row) {
  const i = Math.min(14, Math.floor(col)), j = Math.min(11, Math.floor(row));
  const tx = col - i, ty = row - j, rows = [];
  for (let q = -1; q <= 2; q++) {
    const line = grid[Math.max(0, Math.min(12, j + q))];
    rows.push(cubic(line[Math.max(0, i - 1)], line[i], line[i + 1], line[Math.min(15, i + 2)], tx));
  }
  return cubic(rows[0], rows[1], rows[2], rows[3], ty);
}
function spotDrop(spots, k, r) {
  let total = 0;
  spots.forEach(function (s) {
    const a = (k - s[0]) / s[2], b = (r - s[1]) / s[3];
    total += s[4] * Math.exp(-0.5 * (a * a + b * b));
  });
  return total;
}
function levelColor(v) {
  v = Math.max(0, Math.min(100, v));
  for (let s = 1; s < colorStops.length; s++) {
    if (v <= colorStops[s][0]) {
      const a = colorStops[s - 1], b = colorStops[s], t = (v - a[0]) / (b[0] - a[0]);
      return [a[1] + t * (b[1] - a[1]), a[2] + t * (b[2] - a[2]), a[3] + t * (b[3] - a[3])];
    }
  }
  return [255, 0, 0];
}
function drawHeatmap(canvasId, grid, spots, prefix) {
  const canvas = document.getElementById(canvasId);
  const ctx = canvas.getContext('2d');
  const w = canvas.width, h = canvas.height;
  const image = ctx.createImageData(w, h);
  const kOf = scale(0, w - 1, 0, 15), rOf = scale(0, h - 1, 4, 1);
  for (let y = 0; y < h; y++) {
    for (let x = 0; x < w; x++) {
      const k = kOf(x), r = rOf(y);
      const v = sampleLevels(grid, k, (4 - r) / 0.25) - spotDrop(spots, k, r);
      const c = levelColor(v);
      const p = (y * w + x) * 4;
      image.data[p] = c[0];
      image.data[p + 1] = c[1];
      image.data[p + 2] = c[2];
      image.data[p + 3] = 255;
    }
  }
  ctx.putImageData(image, 0, 0);
  const left = parseFloat(canvas.style.left), top = parseFloat(canvas.style.top);
  const box = { l: left, r: left + w, t: top, b: top + h };
  const sx = scale(0, 15, box.l, box.r), sy = scale(1, 4, box.b, box.t);
  xAxis(prefix, box, sx, kTicks, kMinorTicks, box.b + 21, 15);
  yAxis(prefix, box, sy, drTicks, drMinorTicks, box.l - 6, 15);
}
drawHeatmap('map-foil', vFoilLevels, vFoilSpots, 'f1');
drawHeatmap('map-czvo', cZvoLevels, cZvoSpots, 'f2');
drawHeatmap('map-vo2', vo2Levels, vo2Spots, 'f3');
drawHeatmap('map-azvo', aZvoLevels, aZvoSpots, 'f4');
</script>
</body>
</html>
